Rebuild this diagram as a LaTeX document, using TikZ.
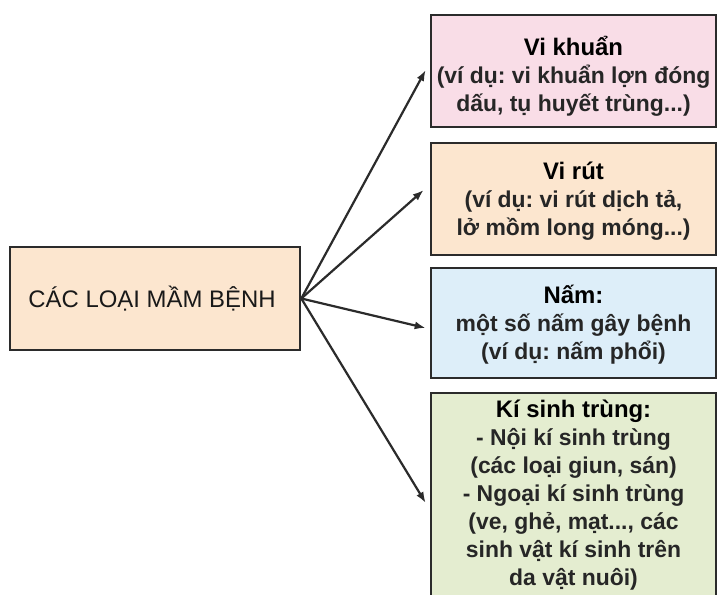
\documentclass[tikz,border=0pt]{standalone}
\usepackage{fontspec}
\setmainfont{Liberation Sans}
\usetikzlibrary{arrows.meta}
\definecolor{pinkbox}{HTML}{F9DDE7}
\definecolor{peachbox}{HTML}{FCE6CF}
\definecolor{bluebox}{HTML}{DDEEF9}
\definecolor{greenbox}{HTML}{E4EDD0}
\definecolor{edge}{HTML}{2B2B2B}
\newcommand{\hd}[1]{{\fontsize{24}{28}\selectfont\color{black} #1}}
\tikzset{
  box/.style={draw=edge, line width=2.6bp, rectangle, inner sep=0pt},
  txt/.style={align=center, inner sep=0pt, font=\fontsize{23}{28}\selectfont\bfseries\frenchspacing, text=black!85},
  maintxt/.style={inner sep=0pt, font=\fontsize{24}{28}\selectfont, text=black!90},
  arr/.style={draw=edge, line width=2.2bp, -{Latex[length=11bp,width=8bp]}}
}
\begin{document}
\begin{tikzpicture}[x=1bp,y=-1bp]
\useasboundingbox (0,0) rectangle (719,595);
\clip (0,0) rectangle (719,595);
\fill[white] (0,0) rectangle (719,595);
\node[box, fill=peachbox, minimum width=290bp, minimum height=103bp] (main) at (155,298.5) {};
\node[maintxt] (maintext) at (152,298.5) {CÁC LOẠI MẦM BỆNH};

\node[box, fill=pinkbox, minimum width=285bp, minimum height=112bp] (b1) at (573.5,71) {};
\node[txt] (t1) at (573.5,76.5) {\hd{Vi khuẩn}\\(ví dụ: vi khuẩn lợn đóng\\dấu, tụ huyết trùng...)};

\node[box, fill=peachbox, minimum width=285bp, minimum height=112bp] (b2) at (573.5,199) {};
\node[txt] (t2) at (573.5,201) {\hd{Vi rút}\\(ví dụ: vi rút dịch tả,\\lở mồm long móng...)};

\node[box, fill=bluebox, minimum width=285bp, minimum height=110bp] (b3) at (573.5,323) {};
\node[txt] (t3) at (573.5,325) {\hd{Nấm:}\\một số nấm gây bệnh\\(ví dụ: nấm phổi)};

\node[box, fill=greenbox, minimum width=285bp, minimum height=212bp] (b4) at (573.5,499) {};
\node[txt] (t4) at (573.5,495) {\hd{Kí sinh trùng:}\\- Nội kí sinh trùng\\(các loại giun, sán)\\- Ngoại kí sinh trùng\\(ve, ghẻ, mạt..., các\\sinh vật kí sinh trên\\da vật nuôi)};

\draw[arr] (main.east) -- ([xshift=-4bp,yshift=1bp]b1.west);
\draw[arr] (main.east) -- ([xshift=-6bp,yshift=9bp]b2.west);
\draw[arr] (main.east) -- ([xshift=-4bp,yshift=-5bp]b3.west);
\draw[arr] (main.east) -- ([xshift=-4bp,yshift=-4bp]b4.west);
\end{tikzpicture}
\end{document}
